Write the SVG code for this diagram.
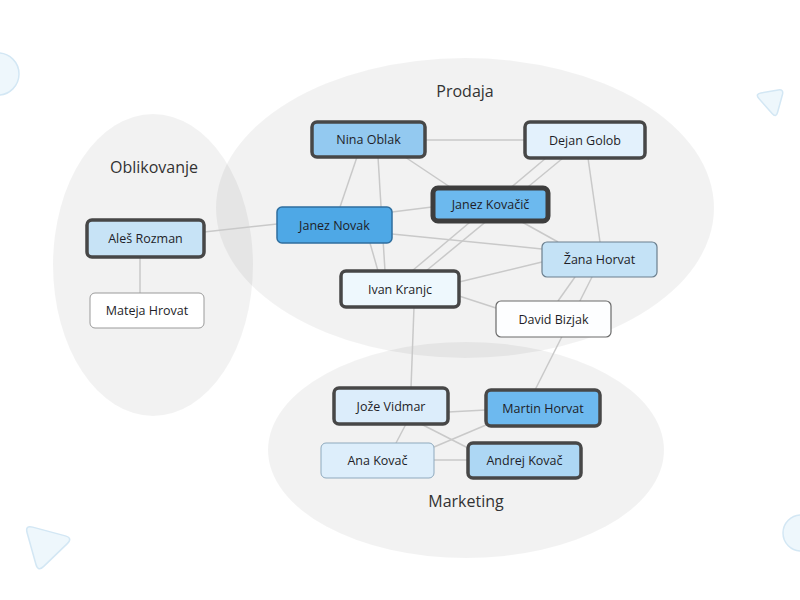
<svg xmlns="http://www.w3.org/2000/svg" width="800" height="600" viewBox="0 0 800 600">
<style>
.grp{fill:#000;fill-opacity:0.05}
.glabel{font-family:"Open Sans","Liberation Sans",sans-serif;font-size:16px;fill:#333;text-anchor:middle}
.lbl{font-family:"Open Sans","Liberation Sans",sans-serif;font-size:12.5px;font-weight:500;fill:#1e1e28;text-anchor:middle;dominant-baseline:central}
.edges line{stroke:#c9c9c9;stroke-width:1.5}
.thick{stroke:#474747;stroke-width:3.5}
.deco{fill:#eef7fc;stroke:#d3e7f4;stroke-width:1.5}
</style>
<rect width="800" height="600" fill="#ffffff"/>
<circle class="deco" cx="-2" cy="74" r="21"/>
<circle class="deco" cx="801" cy="533" r="18"/>
<path class="deco" d="M760.9,93 L778.1,90 Q784,89 782.4,94.8 L777.6,112.2 Q776,118 772.1,113.5 L758.9,98.5 Q755,94 760.9,93 Z"/>
<path class="deco" d="M32.7,527.1 L65.3,535.9 Q73,538 67.3,543.6 L43.7,566.4 Q38,572 35.9,564.3 L27.1,532.7 Q25,525 32.7,527.1 Z"/>
<g id="groups">
<ellipse class="grp" cx="465" cy="208" rx="249" ry="150"/>
<ellipse class="grp" cx="153" cy="265" rx="100" ry="151"/>
<ellipse class="grp" cx="466" cy="450" rx="198" ry="108"/>
<text class="glabel" x="465" y="97">Prodaja</text>
<text class="glabel" x="154" y="173">Oblikovanje</text>
<text class="glabel" x="466" y="507">Marketing</text>
</g>
<g class="edges" id="connectors">
<line x1="425" y1="140" x2="525" y2="140"/>
<line x1="357" y1="157" x2="340" y2="207"/>
<line x1="378" y1="157" x2="385" y2="271"/>
<line x1="405" y1="157" x2="450" y2="187"/>
<line x1="546" y1="158" x2="412" y2="271"/>
<line x1="563" y1="158" x2="426" y2="271"/>
<line x1="588" y1="158" x2="600" y2="242"/>
<line x1="392" y1="212" x2="432" y2="207"/>
<line x1="204" y1="232" x2="277" y2="224"/>
<line x1="392" y1="234" x2="542" y2="249"/>
<line x1="370" y1="243" x2="378" y2="271"/>
<line x1="522" y1="222" x2="558" y2="242"/>
<line x1="459" y1="282" x2="542" y2="262"/>
<line x1="459" y1="296" x2="496" y2="308"/>
<line x1="575" y1="277" x2="558" y2="301"/>
<line x1="592" y1="277" x2="535" y2="390"/>
<line x1="414" y1="307" x2="411" y2="388"/>
<line x1="448" y1="412" x2="486" y2="410"/>
<line x1="406" y1="424" x2="396" y2="443"/>
<line x1="421" y1="424" x2="468" y2="448"/>
<line x1="486" y1="425" x2="434" y2="447"/>
<line x1="434" y1="460" x2="468" y2="460"/>
<line x1="140" y1="257" x2="140" y2="293"/>
</g>
<g id="nina-oblak"><rect class="thick" x="312" y="122" width="113" height="35" rx="5" fill="#93c9f0"/><text class="lbl" x="368.5" y="139.5">Nina Oblak</text></g>
<g id="dejan-golob"><rect class="thick" x="525" y="122" width="120" height="36" rx="5" fill="#e3f1fc"/><text class="lbl" x="585" y="140">Dejan Golob</text></g>
<g id="janez-kovacic"><rect x="433" y="188" width="115" height="33" rx="5" fill="#6cb9ee" stroke="#3d3d3d" stroke-width="5"/><text class="lbl" x="490.5" y="204.5">Janez Kovačič</text></g>
<g id="janez-novak"><rect x="277" y="207" width="115" height="36" rx="5" fill="#4ea8e6" stroke="#2f6e9e" stroke-width="1.5"/><text class="lbl" x="334.5" y="225">Janez Novak</text></g>
<g id="ales-rozman"><rect class="thick" x="87" y="220" width="117" height="37" rx="5" fill="#c7e3f6"/><text class="lbl" x="145.5" y="238.5">Aleš Rozman</text></g>
<g id="mateja-hrovat"><rect x="90" y="293" width="114" height="35" rx="5" fill="#ffffff" stroke="#9a9a9a" stroke-width="1"/><text class="lbl" x="147" y="310.5">Mateja Hrovat</text></g>
<g id="zana-horvat"><rect x="542" y="242" width="115" height="35" rx="5" fill="#c4e2f6" stroke="#6b7f8e" stroke-width="1.2"/><text class="lbl" x="599.5" y="259.5">Žana Horvat</text></g>
<g id="ivan-kranjc"><rect class="thick" x="341" y="271" width="118" height="36" rx="5" fill="#eef8fd"/><text class="lbl" x="400" y="289">Ivan Kranjc</text></g>
<g id="david-bizjak"><rect x="496" y="301" width="115" height="36" rx="5" fill="#fdfeff" stroke="#6a6a6a" stroke-width="1.2"/><text class="lbl" x="553.5" y="319">David Bizjak</text></g>
<g id="joze-vidmar"><rect class="thick" x="334" y="388" width="114" height="36" rx="5" fill="#dcedfb"/><text class="lbl" x="391" y="406">Jože Vidmar</text></g>
<g id="martin-horvat"><rect class="thick" x="486" y="390" width="114" height="36" rx="5" fill="#6db9ef"/><text class="lbl" x="543" y="408">Martin Horvat</text></g>
<g id="ana-kovac"><rect x="321" y="443" width="113" height="35" rx="5" fill="#ddeefb" stroke="#8ea9bd" stroke-width="1"/><text class="lbl" x="377.5" y="460.5">Ana Kovač</text></g>
<g id="andrej-kovac"><rect class="thick" x="468" y="443" width="113" height="35" rx="5" fill="#add7f4"/><text class="lbl" x="524.5" y="460.5">Andrej Kovač</text></g>
</svg>
